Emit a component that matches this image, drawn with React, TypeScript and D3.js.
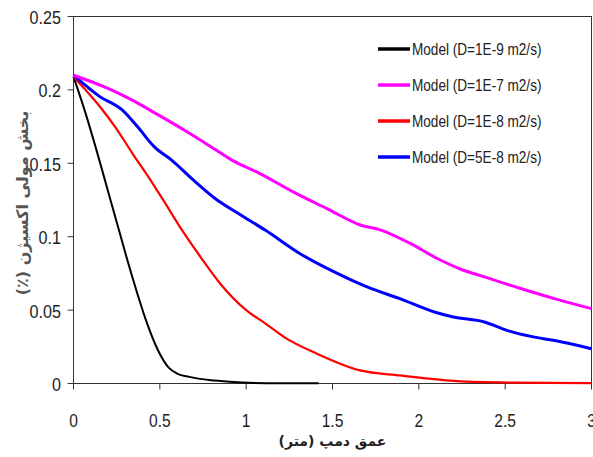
import React from "react";
import * as d3 from "d3";

const W = 593;
const H = 457;

const xTicks = [0, 0.5, 1, 1.5, 2, 2.5, 3];
const yTicks = [0, 0.05, 0.1, 0.15, 0.2, 0.25];

const blackX = [0, 0.07, 0.15, 0.2, 0.25, 0.3, 0.36, 0.42, 0.49, 0.55, 0.6, 0.67, 0.82, 0.98, 1.2, 1.42];
const blackY = [0.209, 0.184, 0.152, 0.131, 0.11, 0.089, 0.065, 0.043, 0.0225, 0.011, 0.0068, 0.0045, 0.002, 0.0006, 0.0002, 0.0001];

const magentaX = [0, 0.2, 0.34, 0.49, 0.65, 0.8, 0.92, 1.08, 1.28, 1.47, 1.66, 1.78, 1.95, 2.11, 2.24, 2.38, 2.59, 2.78, 3.0];
const magentaY = [0.21, 0.201, 0.193, 0.183, 0.172, 0.161, 0.152, 0.143, 0.13, 0.119, 0.108, 0.1045, 0.0954, 0.085, 0.078, 0.0726, 0.0647, 0.058, 0.051];

const redX = [0, 0.15, 0.24, 0.34, 0.46, 0.53, 0.62, 0.735, 0.85, 1.0, 1.11, 1.22, 1.41, 1.66, 1.89, 2.18, 2.47, 3.0];
const redY = [0.209, 0.189, 0.175, 0.157, 0.136, 0.123, 0.106, 0.0863, 0.068, 0.05, 0.041, 0.0316, 0.0203, 0.0089, 0.0055, 0.002, 0.0007, 0.0002];

const blueX = [0, 0.15, 0.28, 0.37, 0.47, 0.57, 0.69, 0.82, 0.98, 1.11, 1.31, 1.51, 1.7, 1.89, 2.09, 2.2, 2.38, 2.51, 2.67, 2.78, 3.0];
const blueY = [0.21, 0.1956, 0.1865, 0.175, 0.161, 0.152, 0.139, 0.126, 0.114, 0.1045, 0.0886, 0.076, 0.0658, 0.0578, 0.0487, 0.0453, 0.0419, 0.0362, 0.0316, 0.0294, 0.0237];

const seriesNames = [
  "Model (D=1E-9 m2/s)",
  "Model (D=1E-7 m2/s)",
  "Model (D=1E-8 m2/s)",
  "Model (D=5E-8 m2/s)",
];

const xLabel = "عمق دمپ (متر)";
const yLabel = "بخش مولی اکسیژن (٪)";

const series = [
  { name: seriesNames[0], xs: blackX, ys: blackY, color: "#000000", width: 2 },
  { name: seriesNames[1], xs: magentaX, ys: magentaY, color: "#ff00ff", width: 3 },
  { name: seriesNames[2], xs: redX, ys: redY, color: "#ff0000", width: 2.2 },
  { name: seriesNames[3], xs: blueX, ys: blueY, color: "#0000ff", width: 3 },
];

const drawOrder = [0, 2, 3, 1];

export default function App() {
  const left = 73.5;
  const right = 591.5;
  const top = 16.5;
  const bottom = 383.5;
  const x = d3.scaleLinear().domain([0, 3]).range([left, right]);
  const y = d3.scaleLinear().domain([0, 0.25]).range([bottom, top]);
  const line = d3
    .line<[number, number]>()
    .x((d) => x(d[0]))
    .y((d) => y(d[1]))
    .curve(d3.curveMonotoneX);

  const tickFont = "'Liberation Sans', Arial, sans-serif";

  return (
    <svg
      width={W}
      height={H}
      style={{ position: "absolute", left: 0, top: 0, background: "#fff" }}
    >
      <rect x={0} y={0} width={W} height={H} fill="#fff" />
      {/* frame */}
      <rect x={left} y={top} width={right - left} height={bottom - top} fill="none" stroke="#333" strokeWidth={1} />
      {/* y ticks */}
      {yTicks.map((t) => (
        <g key={"y" + t} transform={`translate(61, ${y(t) + 1}) scale(0.85, 1)`}>
          <text
            x={0}
            y={0}
            textAnchor="end"
            dominantBaseline="central"
            fontFamily={tickFont}
            fontSize={19}
            fill="#222"
          >
            {String(t)}
          </text>
        </g>
      ))}
      {yTicks.map((t) => (
        <line key={"yl" + t} x1={left - 6} x2={left} y1={y(t)} y2={y(t)} stroke="#333" />
      ))}
      {/* x ticks */}
      {xTicks.map((t) => (
        <g key={"x" + t}>
          <line x1={x(t)} x2={x(t)} y1={bottom} y2={bottom + 6} stroke="#333" />
          <g transform={`translate(${x(t)}, 420) scale(0.82, 1)`}>
            <text
              x={0}
              y={0}
              textAnchor="middle"
              dominantBaseline="central"
              fontFamily={tickFont}
              fontSize={19}
              fill="#222"
            >
              {String(t)}
            </text>
          </g>
        </g>
      ))}
      {/* series */}
      {drawOrder.map((i) => {
        const s = series[i];
        const pts = s.xs.map((v, k) => [v, s.ys[k]] as [number, number]);
        return (
          <path
            key={s.name}
            d={line(pts) || ""}
            fill="none"
            stroke={s.color}
            strokeWidth={s.width}
            strokeLinejoin="round"
          />
        );
      })}
      {/* legend */}
      {series.map((s, i) => {
        const ly = 49 + i * 36;
        return (
          <g key={"leg" + i}>
            <line x1={378} x2={410} y1={ly} y2={ly} stroke={s.color} strokeWidth={3.5} />
            <g transform={`translate(412, ${ly}) scale(0.8, 1)`}>
              <text
                x={0}
                y={0}
                dominantBaseline="central"
                fontFamily={tickFont}
                fontSize={17}
                fill="#222"
              >
                {s.name}
              </text>
            </g>
          </g>
        );
      })}
      {/* axis titles */}
      <text
        x={x(1.5)}
        y={441}
        textAnchor="middle"
        dominantBaseline="central"
        fontFamily="'DejaVu Sans', sans-serif"
        fontWeight="bold"
        fontSize={14}
        fill="#222"
        direction="rtl"
      >
        {xLabel}
      </text>
      <text
        transform={`translate(22, ${203}) rotate(-90)`}
        textAnchor="middle"
        dominantBaseline="central"
        fontFamily="'DejaVu Sans', sans-serif"
        fontWeight="bold"
        fontSize={16}
        fill="#555"
        direction="rtl"
      >
        {yLabel}
      </text>
    </svg>
  );
}
